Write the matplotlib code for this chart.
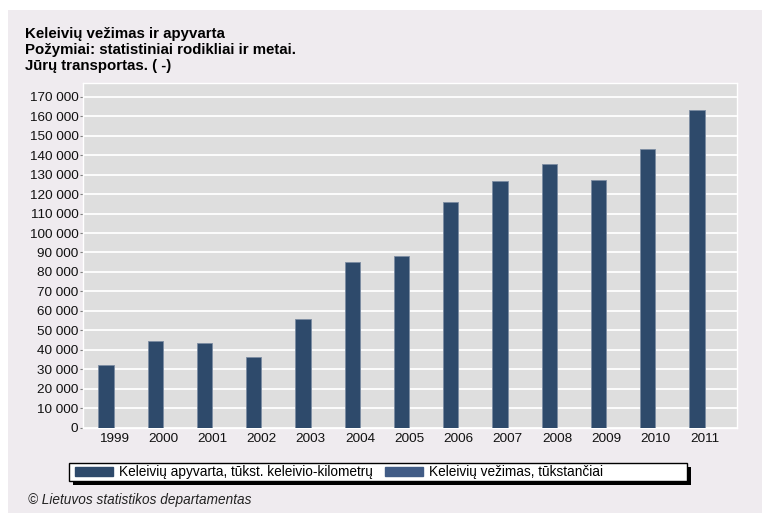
import matplotlib
matplotlib.use("Agg")
import matplotlib.pyplot as plt
from matplotlib.patches import Rectangle, Patch
from matplotlib.ticker import FuncFormatter

# ======================================================
# Data
# ======================================================
years = ["1999", "2000", "2001", "2002", "2003", "2004", "2005",
         "2006", "2007", "2008", "2009", "2010", "2011"]
apyvarta = [32000, 44700, 43300, 36100, 55800, 85000, 88400,
            116200, 126800, 135400, 127500, 143300, 163300]

title_lines = [
    "Keleivių vežimas ir apyvarta",
    "Požymiai: statistiniai rodikliai ir metai.",
    "Jūrų transportas. ( -)",
]
series_labels = [
    "Keleivių apyvarta, tūkst. keleivio-kilometrų",
    "Keleivių vežimas, tūkstančiai",
]
footer = "© Lietuvos statistikos departamentas"

W, H = 762, 513
PANEL = "#EFEBEF"
BAR = "#2E4A6B"
BAR2 = "#415C86"

plt.rcParams["font.family"] = ["Liberation Sans", "DejaVu Sans"]

fig = plt.figure(figsize=(W / 100, H / 100), dpi=100, facecolor="white")

# panel background (white strip on top / left like the reference)
fig.patches.append(Rectangle((8 / W, 0), 1, 1 - 10 / H, transform=fig.transFigure,
                             facecolor=PANEL, edgecolor="none", zorder=-5))

# -------------------------
# Title block
# -------------------------
for i, line in enumerate(title_lines):
    fig.text(25 / W, 1 - (37.8 + 16.2 * i) / H, line, fontsize=10.8,
             fontweight="bold", va="baseline", ha="left")

# -------------------------
# Axes
# -------------------------
ax = fig.add_axes([83.3 / W, 1 - 427.5 / H, (737 - 83.3) / W, (427.5 - 83.3) / H])
ax.set_zorder(3)
ax.set_facecolor("#DEDEDE")

x = list(range(len(years)))
w = 0.313
ax.bar([i - w / 2 for i in x], apyvarta, width=w, color=BAR,
       edgecolor="#7C8CA2", linewidth=0.6, zorder=3)

ax.set_xlim(-0.617, 12.656)
ax.set_ylim(0, 177000)
ax.set_yticks(range(0, 170001, 10000))
ax.yaxis.set_major_formatter(FuncFormatter(lambda v, p: f"{int(v):,}".replace(",", " ")))
ax.set_xticks(x)
ax.set_xticklabels(years)

ax.grid(axis="y", color="white", linewidth=1.3, zorder=1)
ax.set_axisbelow(True)
for s in ax.spines.values():
    s.set_color("white")
    s.set_linewidth(1.0)

ax.tick_params(axis="y", length=2, width=0.8, color="#808080", pad=1.5,
               labelsize=9.7, labelcolor="#111111")
ax.tick_params(axis="x", length=0, pad=4, labelsize=9.7, labelcolor="#111111")

# -------------------------
# Legend with black box + shadow
# -------------------------
lx0, ly0, lx1, ly1 = 69, 463.3, 687, 481
fig.patches.append(Rectangle(((lx0 + 4) / W, 1 - (ly1 + 3.5) / H), (lx1 - lx0) / W,
                             (ly1 - ly0) / H, transform=fig.transFigure,
                             facecolor="black", edgecolor="none", zorder=1))
fig.patches.append(Rectangle((lx0 / W, 1 - ly1 / H), (lx1 - lx0) / W, (ly1 - ly0) / H,
                             transform=fig.transFigure, facecolor="white",
                             edgecolor="black", linewidth=1.0, zorder=2))

handles = [Patch(facecolor=BAR, edgecolor=BAR), Patch(facecolor=BAR2, edgecolor=BAR2)]
leg = fig.legend(handles, series_labels, ncol=2, frameon=False,
                 loc="center left", bbox_to_anchor=((lx0 + 6) / W, 1 - (ly0 + ly1) / 2 / H),
                 fontsize=9.8, handlelength=2.8, handleheight=0.6,
                 handletextpad=0.45, columnspacing=0.85, borderpad=0, borderaxespad=0)
leg.set_zorder(5)

# -------------------------
# Footer
# -------------------------
fig.text(28 / W, 1 - 504 / H, footer, fontsize=9.8, style="italic",
         va="baseline", ha="left", color="#222222")

fig.savefig("out.png", dpi=100, facecolor=fig.get_facecolor())
